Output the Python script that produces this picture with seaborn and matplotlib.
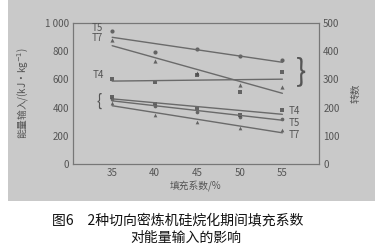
import matplotlib
matplotlib.use("Agg")
import matplotlib.pyplot as plt
import seaborn as sns
import numpy as np
from matplotlib.patches import Rectangle

sns.set_theme(style="white")
plt.rcParams['font.family'] = ['Noto Sans CJK SC', 'DejaVu Sans']

fill = [35, 40, 45, 50, 55]
# energy input (left axis), kJ/kg
energy_T5 = [943, 793, 814, 764, 736]
energy_T7 = [879, 729, 643, 557, 543]
energy_T4 = [600, 580, 630, 514, 650]
# revolutions (right axis)
rev_T4 = [239, 214, 200, 175, 190]
rev_T5 = [229, 204, 186, 168, 161]
rev_T7 = [218, 175, 150, 129, 121]

left_ticks = [0, 200, 400, 600, 800, 1000]
left_labels = ["0", "200", "400", "600", "800", "1 000"]
right_ticks = [0, 100, 200, 300, 400, 500]
x_ticks = [35, 40, 45, 50, 55]

W, H = 385, 250
fig = plt.figure(figsize=(W / 100, H / 100), dpi=100)
fig.patch.set_facecolor("white")
bg = Rectangle((8 / W, 1 - 201 / H), 367 / W, 201 / H,
               transform=fig.transFigure, facecolor="#c9c9c9",
               edgecolor="none", zorder=-10)
fig.patches.append(bg)

ax = fig.add_axes([73 / W, 1 - 164 / H, (319 - 73) / W, (164 - 23) / H])
ax.set_facecolor("none")
ax2 = ax.twinx()
ax2.set_facecolor("none")

mc = "#4a4a4a"
lc = "#6a6a6a"
series_left = [(energy_T5, "o"), (energy_T7, "^"), (energy_T4, "s")]
for vals, m in series_left:
    sns.regplot(x=fill, y=vals, ax=ax, ci=None, marker=m, truncate=True,
                scatter_kws=dict(s=9, color=mc, linewidths=0),
                line_kws=dict(color=lc, lw=1.0))
series_right = [(rev_T4, "s"), (rev_T5, "o"), (rev_T7, "^")]
for vals, m in series_right:
    sns.regplot(x=fill, y=vals, ax=ax2, ci=None, marker=m, truncate=True,
                scatter_kws=dict(s=7, color=mc, linewidths=0),
                line_kws=dict(color=lc, lw=1.0))

ax.set_xlim(30.4, 59.3)
ax.set_ylim(0, 1000)
ax2.set_ylim(0, 500)
ax.set_xticks(x_ticks)
ax.set_yticks(left_ticks)
ax.set_yticklabels(left_labels)
ax2.set_yticks(right_ticks)
for a in (ax, ax2):
    a.tick_params(labelsize=7, colors="#555555", length=0, pad=3)
    for s in a.spines.values():
        s.set_color("#777777")
        s.set_linewidth(0.8)
ax.set_xlabel("填充系数/%", fontsize=7, color="#555555", labelpad=1)
ax.set_ylabel("能量输入/(kJ·kg$^{-1}$)", fontsize=7, color="#555555", labelpad=10)
ax2.set_ylabel("转数", fontsize=7, color="#555555", labelpad=8)

def ftext(x, y, s, **kw):
    fig.text(x / W, 1 - y / H, s, ha="center", va="center", color="#555555", **kw)

ftext(97, 28, "T5", fontsize=7)
ftext(97, 38, "T7", fontsize=7)
ftext(98, 75, "T4", fontsize=7)
ftext(99, 101, "{", fontsize=11)
ftext(301, 72, "}", fontsize=22, fontweight="light")
ftext(294, 111, "T4", fontsize=7)
ftext(294, 123, "T5", fontsize=7)
ftext(294, 135, "T7", fontsize=7)

fig.text(178 / W, 1 - 220 / H, "图6　2种切向密炼机硅烷化期间填充系数",
         ha="center", va="center", fontsize=10, color="#111111")
fig.text(186 / W, 1 - 238 / H, "对能量输入的影响",
         ha="center", va="center", fontsize=10, color="#111111")

fig.savefig("out.png", dpi=100)
